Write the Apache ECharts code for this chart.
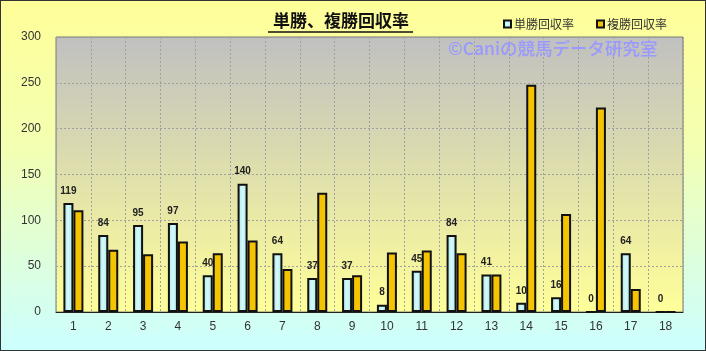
<!DOCTYPE html>
<html>
<head>
<meta charset="utf-8">
<script src="https://cdn.jsdelivr.net/npm/echarts@6/dist/echarts.min.js"></script>
<style>
  html, body { margin: 0; padding: 0; }
  #main { width: 706px; height: 351px; box-sizing: border-box; border: 1px solid #333; }
</style>
</head>
<body>
<div id="main"></div>
<script>
// 単勝・複勝回収率 by number
var categories = ['1','2','3','4','5','6','7','8','9','10','11','12','13','14','15','16','17','18'];
var tanshoValues = [119, 84, 95, 97, 40, 140, 64, 37, 37, 8, 45, 84, 41, 10, 16, 0, 64, 0];
var fukushoValues = [111, 68, 63, 77, 64, 78, 47, 130, 40, 65, 67, 64, 41, 248, 107, 223, 25, 0];
var yTicks = [0, 50, 100, 150, 200, 250, 300];

var fontJa = '"Noto Sans CJK JP", "Liberation Sans", sans-serif';

var dom = document.getElementById('main');
var myChart = echarts.init(dom, null, { renderer: 'canvas' });

var option = {
  animation: false,
  backgroundColor: new echarts.graphic.LinearGradient(0, 0, 0, 1, [
    { offset: 0, color: '#ffff99' },
    { offset: 0.4, color: '#f4ffb0' },
    { offset: 1, color: '#ccffff' }
  ]),
  title: {
    text: '単勝、複勝回収率',
    left: 267,
    top: 6,
    textStyle: { fontFamily: fontJa, fontSize: 17, fontWeight: 'bold', color: '#111' }
  },
  graphic: [
    {
      type: 'line',
      shape: { x1: 267, y1: 31, x2: 412, y2: 31 },
      style: { stroke: '#111', lineWidth: 1.5 }
    },
    {
      type: 'text',
      left: 447,
      top: 39,
      z: 10,
      style: {
        text: '©Caniの競馬データ研究室',
        font: '500 17.5px ' + fontJa,
        fill: '#9999ff'
      }
    }
  ],
  legend: {
    left: 497,
    top: 12,
    itemWidth: 7,
    itemHeight: 7,
    itemGap: 22,
    icon: 'rect',
    textStyle: { fontFamily: fontJa, fontSize: 12, color: '#333', padding: [0, 0, 0, -2] },
    data: ['単勝回収率', '複勝回収率']
  },
  grid: {
    left: 55,
    right: 22,
    top: 36,
    bottom: 38,
    show: true,
    borderColor: '#777',
    borderWidth: 1,
    backgroundColor: new echarts.graphic.LinearGradient(0, 0, 0, 1, [
      { offset: 0, color: '#c0c0c0' },
      { offset: 1, color: '#ffff99' }
    ])
  },
  xAxis: {
    type: 'category',
    data: categories,
    axisLine: { lineStyle: { color: '#222', width: 1 } },
    axisTick: { show: false },
    axisLabel: { color: '#333', fontSize: 12, fontFamily: 'Liberation Sans', margin: 9 },
    splitLine: { show: true, lineStyle: { color: '#a0a0a0', type: [2, 2], width: 1 } }
  },
  yAxis: {
    type: 'value',
    min: 0,
    max: 300,
    interval: 50,
    axisLine: { show: false },
    axisTick: { show: false },
    axisLabel: { color: '#333', fontSize: 12, fontFamily: 'Liberation Sans', margin: 15 },
    splitLine: { lineStyle: { color: '#a0a0a0', type: [2, 2], width: 1 } }
  },
  series: [
    {
      name: '単勝回収率',
      type: 'bar',
      data: tanshoValues,
      barWidth: 10,
      barGap: '0%',
      itemStyle: {
        color: new echarts.graphic.LinearGradient(0, 0, 1, 0, [
          { offset: 0, color: '#a8e4e8' },
          { offset: 0.5, color: '#d4fafa' },
          { offset: 1, color: '#a8e4e8' }
        ]),
        borderColor: '#111',
        borderWidth: 2
      },
      label: {
        show: true,
        position: 'top',
        distance: 7,
        color: '#222',
        fontSize: 10,
        fontWeight: 'bold',
        fontFamily: 'Liberation Sans'
      }
    },
    {
      name: '複勝回収率',
      type: 'bar',
      data: fukushoValues,
      barWidth: 10,
      itemStyle: {
        color: '#f5c400',
        borderColor: '#111',
        borderWidth: 2
      }
    }
  ]
};

myChart.setOption(option);
window.addEventListener('resize', myChart.resize);
</script>
</body>
</html>
